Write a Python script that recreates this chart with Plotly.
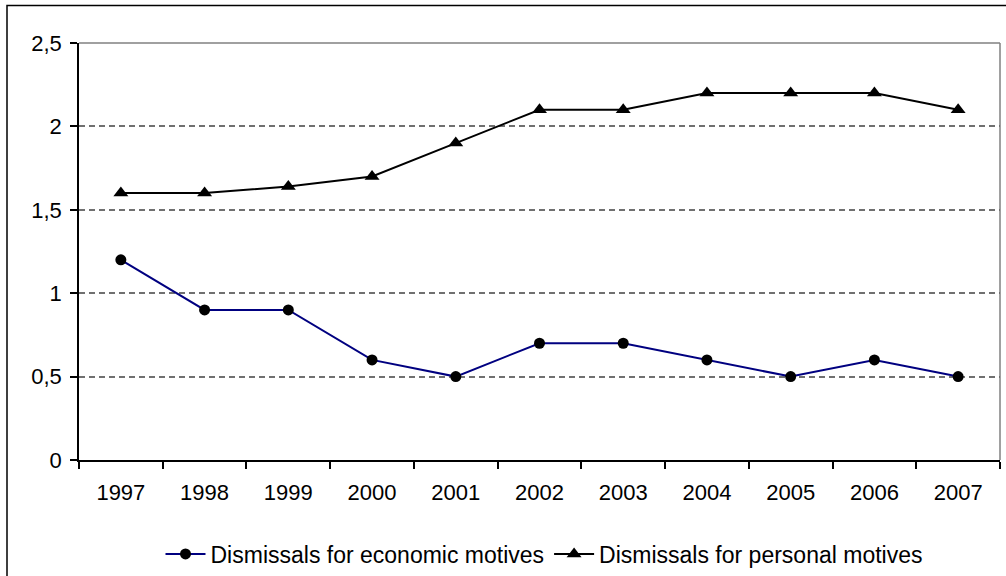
import plotly.graph_objects as go

years = ["1997", "1998", "1999", "2000", "2001", "2002", "2003", "2004", "2005", "2006", "2007"]
economic = [1.2, 0.9, 0.9, 0.6, 0.5, 0.7, 0.7, 0.6, 0.5, 0.6, 0.5]
personal = [1.6, 1.6, 1.64, 1.7, 1.9, 2.1, 2.1, 2.2, 2.2, 2.2, 2.1]
y_ticks = [0, 0.5, 1, 1.5, 2, 2.5]
y_labels = ["0", "0,5", "1", "1,5", "2", "2,5"]

FONT = "Liberation Sans, Arial, sans-serif"

fig = go.Figure()
fig.add_trace(go.Scatter(
    x=years, y=economic, mode="lines+markers",
    name="Dismissals for economic motives",
    line=dict(color="#000080", width=2),
    marker=dict(symbol="circle", size=11, color="black"),
))
fig.add_trace(go.Scatter(
    x=years, y=personal, mode="lines+markers",
    name="Dismissals for personal motives",
    line=dict(color="black", width=2),
    marker=dict(symbol="triangle-up", size=13, color="black"),
))

L, R, T, B = 79, 6, 43, 116
W, H = 1006, 576
pw = W - L - R
ph = H - T - B

def px_to_paper_x(px):
    return (px - L) / pw

def px_to_paper_y(py):
    return (H - B - py) / ph

shapes = [
    dict(type="line", xref="paper", yref="paper", x0=0, x1=1, y0=1, y1=1,
         line=dict(color="#808080", width=1.5), layer="below"),
    dict(type="line", xref="paper", yref="paper", x0=1, x1=1, y0=0, y1=1,
         line=dict(color="#808080", width=1.5), layer="below"),
    dict(type="rect", xref="paper", yref="paper",
         x0=px_to_paper_x(7), x1=px_to_paper_x(1012),
         y0=px_to_paper_y(590), y1=px_to_paper_y(5.5),
         line=dict(color="black", width=1.5), layer="below"),
]

fig.update_layout(
    width=W, height=H,
    margin=dict(l=L, r=R, t=T, b=B, autoexpand=False),
    paper_bgcolor="white", plot_bgcolor="white",
    font=dict(family=FONT, size=22, color="black"),
    separators=",.",
    showlegend=True,
    legend=dict(orientation="h", x=px_to_paper_x(544), xanchor="center",
                y=px_to_paper_y(554), yanchor="middle",
                font=dict(size=23), itemwidth=40, tracegroupgap=0,
                bgcolor="rgba(0,0,0,0)"),
    shapes=shapes,
    xaxis=dict(
        type="category", showgrid=False, showline=True, linecolor="black",
        linewidth=1.5, ticks="outside", tickson="boundaries", ticklen=7,
        tickcolor="black", tickwidth=1.5, tickfont=dict(size=22),
        ticklabelstandoff=12, automargin=False,
        range=[-0.5, 10.5], fixedrange=True,
    ),
    yaxis=dict(
        range=[0, 2.5], tickvals=y_ticks, ticktext=y_labels,
        showgrid=True, gridcolor="#707070", griddash="6px,4px", gridwidth=1.5,
        zeroline=False, showline=True, linecolor="black", linewidth=1.5,
        ticks="outside", ticklen=7, tickcolor="black", tickwidth=1.5,
        tickfont=dict(size=22), ticklabelstandoff=4, automargin=False,
    ),
)

fig.write_html("out.html")
